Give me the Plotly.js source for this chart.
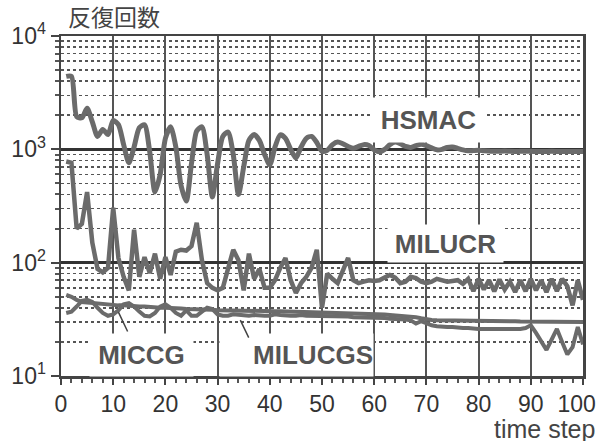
<!DOCTYPE html>
<html>
<head>
<meta charset="utf-8">
<script src="https://cdn.plot.ly/plotly-3.0.1.min.js"></script>
<style>html,body{margin:0;padding:0;background:#fff;}#chart{width:600px;height:445px;}</style>
</head>
<body>
<div id="chart"></div>
<script>
var steps = [1,2,3,4,5,6,7,8,9,10,11,12,13,14,15,16,17,18,19,20,21,22,23,24,25,26,27,28,29,30,31,32,33,34,35,36,37,38,39,40,41,42,43,44,45,46,47,48,49,50,51,52,53,54,55,56,57,58,59,60,61,62,63,64,65,66,67,68,69,70,71,72,73,74,75,76,77,78,79,80,81,82,83,84,85,86,87,88,89,90,91,92,93,94,95,96,97,98,99,100];

var hsmac = [4400,4400,1950,1900,2300,1750,1300,1500,1350,1800,1650,1100,760,1050,1550,1650,950,420,600,1250,1580,1050,480,350,750,1450,1580,900,380,750,1300,1420,900,400,700,1200,1350,1200,900,730,1050,1340,1250,1000,840,1050,1250,1300,1150,960,980,1100,1160,1120,1060,1020,1060,1100,1080,990,950,1000,1100,1160,1120,1060,1040,1080,1110,1080,1030,990,1000,1040,1050,1020,990,970,975,980,970,965,960,962,965,960,958,960,962,960,958,955,958,960,958,955,955,957,955,955];

var milucr = [780,760,200,220,420,150,88,82,90,305,110,75,57,195,75,112,81,120,72,112,78,125,130,128,140,225,105,66,60,57,60,90,130,105,57,120,72,88,60,60,70,90,110,70,54,66,75,90,130,40,80,72,66,85,110,70,66,68,70,69,70,74,78,74,66,68,75,73,68,66,68,72,70,68,69,70,65,72,56,72,58,70,56,71,58,68,55,70,56,72,57,70,55,72,56,72,62,42,70,47];

var miccg = [52,50,47,45,44.5,44,43.5,43,43,42.5,42,42,41.5,41.5,41,41,40.5,40.5,40,40,40,39.5,39.5,39,39,39,38.5,38.5,38.5,38,38,38,37.8,37.8,37.6,37.6,37.5,37.5,37.5,37.4,37.3,37.2,37.1,37,37,37,36.8,36.6,36.5,36.5,36.4,36.3,36.2,36,35.8,35.6,35.5,35.4,35.3,35.2,35,34.8,34.6,34.4,34.2,34,33.5,33,32.3,31.5,31.2,31,31,31,31,31,30.8,30.8,30.7,30.6,30.6,30.5,30.5,30.5,30.5,30.4,30.4,30.3,30.3,30.2,30.2,30.2,30.1,30.1,30,30,30,30,30,30];

var milucgs = [36,37,41,46,47,45,40,36,34,35,38,43,44,41,37,34,33.5,36,41,43,40,36,34,38,34,34,37,40,39,35,34,34,35,34.5,34,34,34.5,34,34,34,35,34.5,34,34,34,34.5,34,34,34,33.5,34,34,33.5,33.5,33.5,33,33,33,32.5,32.5,32.5,32.5,32,32,32,31.5,31,29,30.5,29,28,27.5,27,27,27,26.5,26.5,26.5,26,26,26,26,25.5,25.5,26,26,26,26,26.5,28,24,20,17,21,26,20,15.5,18,27,19];

var yTickVals = [10, 100, 1000, 10000];
var yTickText = ['10<sup>1</sup>', '10<sup>2</sup>', '10<sup>3</sup>', '10<sup>4</sup>'];
var xTickVals = [0,10,20,30,40,50,60,70,80,90,100];
var xTickText = ['0','10','20','30','40','50','60','70','80','90','100&nbsp;&nbsp;'];

var lineColor = '#6b6b6b';
var traces = [
  {x: steps, y: hsmac, name: 'HSMAC', mode: 'lines', line: {color: lineColor, width: 5, shape: 'spline', smoothing: 0.7}},
  {x: steps, y: milucr, name: 'MILUCR', mode: 'lines', line: {color: lineColor, width: 4.5}},
  {x: steps, y: miccg, name: 'MICCG', mode: 'lines', line: {color: lineColor, width: 4}},
  {x: steps, y: milucgs, name: 'MILUCGS', mode: 'lines', line: {color: lineColor, width: 4}}
];

var labFont = {family: 'Liberation Sans, Arial, sans-serif', size: 26, weight: 'bold', color: '#555'};
function boxLabel(text, x, y, w, h, align) {
  return {text: text, x: x, y: y, xref: 'x', yref: 'y', showarrow: false, bgcolor: '#ffffff',
          width: w, height: h, borderpad: 0, align: align || 'center', valign: 'middle', font: labFont};
}
function leader(x, y, ax, ay) {
  return {text: '', x: x, y: y, ax: ax, ay: ay, xref: 'x', yref: 'y', axref: 'x', ayref: 'y',
          showarrow: true, arrowhead: 0, arrowwidth: 1.5, arrowcolor: '#444'};
}

var tickFont = {family: 'Liberation Sans, Arial, sans-serif', size: 23, color: '#333'};

var layout = {
  width: 600, height: 445,
  margin: {l: 61, r: 17, t: 36, b: 69},
  paper_bgcolor: '#ffffff', plot_bgcolor: '#ffffff',
  showlegend: false,
  title: {text: '反復回数', x: 68/600, xanchor: 'left', xref: 'container', y: 1 - 18/445, yanchor: 'middle', yref: 'container',
          font: {family: 'Noto Sans CJK JP', size: 23, color: '#444'}},
  xaxis: {
    range: [0, 100], tickmode: 'array', tickvals: xTickVals, ticktext: xTickText,
    showgrid: true, gridcolor: '#555', gridwidth: 2,
    ticks: 'outside', ticklen: 6, tickwidth: 2, tickcolor: '#444',
    showline: true, mirror: true, linecolor: '#444', linewidth: 2.5, zeroline: false,
    ticklabeloverflow: 'allow',
    tickfont: tickFont,
    minor: {dtick: 2, ticks: 'outside', ticklen: 4, tickwidth: 2, tickcolor: '#555', showgrid: false}
  },
  yaxis: {
    type: 'log', range: [1, 4], tickmode: 'array', tickvals: yTickVals, ticktext: yTickText,
    showgrid: true, gridcolor: '#333', gridwidth: 2.5,
    ticks: 'outside', ticklen: 8, tickwidth: 2, tickcolor: '#444',
    showline: true, mirror: true, linecolor: '#444', linewidth: 2.5, zeroline: false,
    tickfont: tickFont,
    minor: {dtick: 'D1', ticks: 'outside', ticklen: 4, tickwidth: 2, tickcolor: '#555',
            showgrid: true, griddash: 'dot', gridcolor: '#555', gridwidth: 1.5}
  },
  annotations: [
    boxLabel('HSMAC', 70.4, 3.259, 113, 44),
    boxLabel('MILUCR', 73.7, 2.173, 115, 37),
    boxLabel('MICCG', 15.5, 1.189, 103, 42),
    boxLabel('MILUCGS', 45.2, 1.189, 153, 42, 'right'),
    leader(11.0, 1.564, 12.9, 1.379),
    leader(34.35, 1.493, 36.1, 1.326),
    {text: 'time step', xref: 'paper', yref: 'paper', x: (596 - 61) / 522, y: (376 - 429) / 340,
     xanchor: 'right', yanchor: 'middle', showarrow: false, height: 24, borderpad: 0,
     font: {family: 'Liberation Sans, Arial, sans-serif', size: 25, color: '#444'}}
  ]
};

Plotly.newPlot('chart', traces, layout, {displayModeBar: false, staticPlot: true});
</script>
</body>
</html>
